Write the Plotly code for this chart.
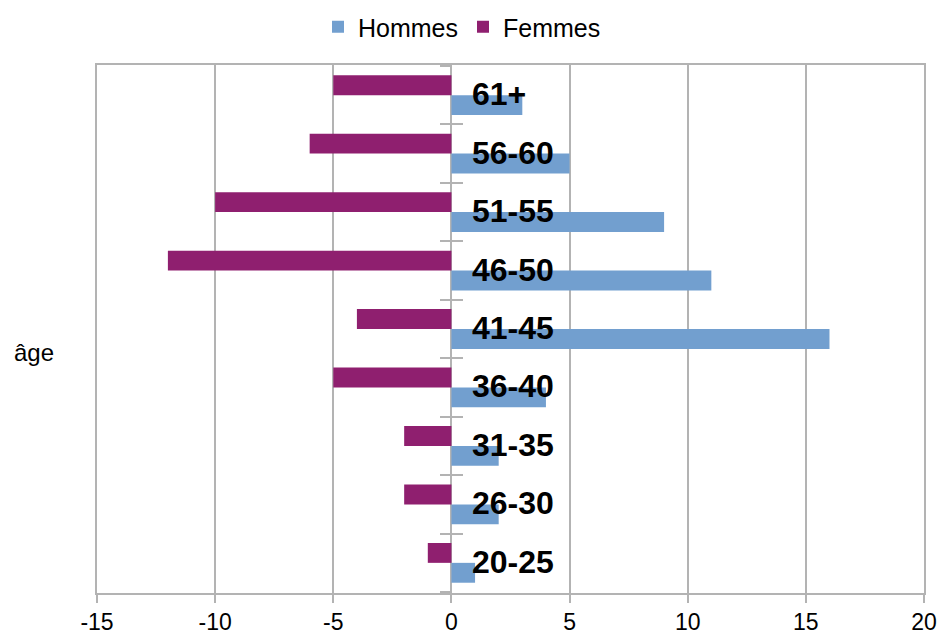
import plotly.graph_objects as go

categories = ["20-25", "26-30", "31-35", "36-40", "41-45", "46-50", "51-55", "56-60", "61+"]
hommes = [1, 2, 2, 4, 16, 11, 9, 5, 3]
femmes = [-1, -2, -2, -5, -4, -12, -10, -6, -5]
x_ticks = [-15, -10, -5, 0, 5, 10, 15, 20]
x_tick_labels = ["-15", "-10", "-5", "0", "5", "10", "15", "20"]

FONT = "Liberation Sans, Arial, sans-serif"
GRID = "#b3b3b3"
X_MIN, X_MAX = -15, 20
FIG_W, FIG_H = 940, 637

fig = go.Figure()
fig.add_trace(go.Bar(y=categories, x=hommes, orientation="h", name="Hommes",
                     marker=dict(color="#729fcf", line=dict(width=0))))
fig.add_trace(go.Bar(y=categories, x=femmes, orientation="h", name="Femmes",
                     marker=dict(color="#8f1f6f", line=dict(width=0))))
# invisible helper traces so the tick axes at x=0 render
for ax in ("y2", "y3"):
    fig.add_trace(go.Scatter(y=categories, x=[0] * len(categories), yaxis=ax, mode="markers",
                             marker=dict(opacity=0), showlegend=False, hoverinfo="skip"))

for c in categories:
    fig.add_annotation(x=0, y=c, text="<b>" + c + "</b>", showarrow=False,
                       xanchor="left", yanchor="middle", xshift=19, yshift=1,
                       font=dict(family=FONT, size=32, color="#000000"))

fig.add_annotation(xref="paper", yref="paper", x=-0.103, y=0.456, text="âge",
                   showarrow=False, xanchor="left", yanchor="middle",
                   font=dict(family=FONT, size=24, color="#000000"))

axis_pos = (0 - X_MIN) / (X_MAX - X_MIN)
tick_axis = dict(type="category", categoryorder="array", categoryarray=categories,
                 overlaying="y", matches="y", anchor="free", position=axis_pos, side="left",
                 automargin=False, showticklabels=False, showgrid=False, zeroline=False,
                 showline=False, tickson="boundaries", ticklen=11, tickcolor=GRID, tickwidth=1.5)

fig.update_layout(
    width=FIG_W, height=FIG_H,
    margin=dict(l=97, r=16, t=65, b=44, autoexpand=False),
    paper_bgcolor="white", plot_bgcolor="white",
    barmode="group", bargap=0.32, bargroupgap=0,
    font=dict(family=FONT, size=24, color="#000000"),
    showlegend=True,
    legend=dict(orientation="h", xref="container", x=462 / FIG_W, xanchor="center",
                yref="container", y=1 - 27 / FIG_H, yanchor="middle",
                font=dict(family=FONT, size=25, color="#000000"),
                itemwidth=30, tracegroupgap=0, traceorder="normal"),
    xaxis=dict(range=[X_MIN, X_MAX], tickvals=x_ticks, ticktext=x_tick_labels,
               showgrid=True, gridcolor=GRID, automargin=False,
               gridwidth=1.5, zeroline=False, showline=True, linecolor=GRID, linewidth=1.5,
               mirror=True, ticks="outside", ticklen=8, tickcolor=GRID, tickwidth=1.5,
               tickfont=dict(family=FONT, size=23, color="#000000")),
    yaxis=dict(type="category", categoryorder="array", categoryarray=categories,
               showticklabels=False, showgrid=False, automargin=False, zeroline=False,
               showline=True, linecolor=GRID, linewidth=1.5, mirror=True, ticks=""),
    yaxis2=dict(tick_axis, ticks="outside"),
    yaxis3=dict(tick_axis, ticks="inside"),
)

fig.write_html("out.html", config={"displayModeBar": False},
               post_script="document.body.style.margin='0';document.body.style.overflow='hidden';")
